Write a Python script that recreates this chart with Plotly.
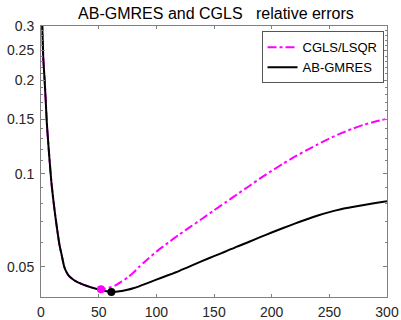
import numpy as np
import plotly.graph_objects as go

iterations = [1, 2, 3, 4, 5, 6, 7, 8, 9, 10, 12, 14, 16, 18, 20, 22, 24, 27, 30, 35, 40, 45,
              50, 52, 56, 61, 65, 70, 75, 80, 85, 90, 100, 110, 120, 130, 140, 150, 160, 170,
              180, 190, 200, 210, 220, 230, 240, 250, 260, 270, 280, 290, 300]

err_abgmres = [0.31, 0.235, 0.205, 0.175, 0.147, 0.130, 0.116, 0.104, 0.094, 0.0867, 0.0750,
               0.0661, 0.0590, 0.0545, 0.0503, 0.0482, 0.0469, 0.0458, 0.0450, 0.0441, 0.0434,
               0.0428, 0.0423, 0.0421, 0.0418, 0.0415, 0.0416, 0.0418, 0.0422, 0.0427, 0.0433,
               0.0440, 0.0455, 0.0470, 0.0486, 0.0504, 0.0523, 0.0542, 0.0561, 0.0582, 0.0602,
               0.0624, 0.0646, 0.0668, 0.0690, 0.0712, 0.0733, 0.0752, 0.0768, 0.0781, 0.0793,
               0.0804, 0.0815]

err_cgls = [0.31, 0.235, 0.205, 0.175, 0.147, 0.130, 0.116, 0.104, 0.094, 0.0867, 0.0750,
            0.0661, 0.0590, 0.0545, 0.0503, 0.0482, 0.0469, 0.0458, 0.0450, 0.0441, 0.0434,
            0.0428, 0.0425, 0.0424, 0.0426, 0.0431, 0.0437, 0.0449, 0.0462, 0.0479, 0.0500,
            0.0520, 0.0560, 0.0598, 0.0637, 0.0676, 0.0717, 0.0762, 0.0808, 0.0858, 0.0910,
            0.0966, 0.1022, 0.1078, 0.1135, 0.1190, 0.1245, 0.1300, 0.1350, 0.1398, 0.1440,
            0.1475, 0.1505]

x_ticks = [0, 50, 100, 150, 200, 250, 300]
y_ticks = [0.05, 0.1, 0.15, 0.2, 0.25, 0.3]
y_ticktext = ["0.05", "0.1", "0.15", "0.2", "0.25", "0.3"]
y_minor = [round(0.04 + 0.01 * k, 2) for k in range(27)]

title_text = "AB-GMRES and CGLS\u00a0\u00a0\u00a0relative errors"

FONT = "Liberation Sans, Arial, sans-serif"
AXC = "#808080"
TXC = "#262626"

i_c = int(np.argmin(err_cgls))
i_b = int(np.argmin(err_abgmres))

fig = go.Figure()
fig.add_trace(go.Scatter(x=iterations, y=err_cgls, mode="lines", name="CGLS/LSQR",
                         line=dict(color="#FF00FF", width=2, dash="dashdot",
                                   shape="spline", smoothing=0.6)))
fig.add_trace(go.Scatter(x=iterations, y=err_abgmres, mode="lines", name="AB-GMRES",
                         line=dict(color="#000000", width=2, shape="spline", smoothing=0.6)))
fig.add_trace(go.Scatter(x=[iterations[i_c]], y=[err_cgls[i_c]], mode="markers",
                         marker=dict(color="#FF00FF", size=8), showlegend=False))
fig.add_trace(go.Scatter(x=[iterations[i_b]], y=[err_abgmres[i_b]], mode="markers",
                         marker=dict(color="#000000", size=8), showlegend=False))

fig.update_layout(
    width=401, height=320,
    margin=dict(l=41, r=14, t=26, b=23),
    paper_bgcolor="white", plot_bgcolor="white",
    font=dict(family=FONT, size=14, color=TXC),
    title=dict(text=title_text, x=0.5385, xanchor="center", xref="container",
               y=1 - 13.5 / 320, yanchor="middle", yref="container",
               font=dict(family=FONT, size=16, color="#000000"), automargin=False),
    showlegend=True,
    legend=dict(x=0.99, y=0.98, xanchor="right", yanchor="top",
                bgcolor="white", bordercolor="#555555", borderwidth=1,
                font=dict(family=FONT, size=13, color="#000000"),
                tracegroupgap=0, itemwidth=30),
)
fig.update_xaxes(range=[0, 300], tickvals=x_ticks, ticks="inside", ticklen=3,
                 tickcolor=AXC, showline=True, linecolor=AXC, linewidth=1,
                 mirror="allticks", showgrid=False, zeroline=False, automargin=False,
                 ticklabelstandoff=2,
                 tickfont=dict(size=14, color=TXC))
fig.update_yaxes(type="log", range=[np.log10(0.04), np.log10(0.3)],
                 tickvals=y_ticks, ticktext=y_ticktext, ticks="inside", ticklen=4,
                 tickcolor=AXC, showline=True, linecolor=AXC, linewidth=1,
                 mirror="allticks", showgrid=False, zeroline=False, automargin=False,
                 ticklabelstandoff=3,
                 tickfont=dict(size=14, color=TXC),
                 minor=dict(tickvals=y_minor, ticks="inside", ticklen=2, tickcolor=AXC,
                            showgrid=False))

fig.write_html("out.html")
